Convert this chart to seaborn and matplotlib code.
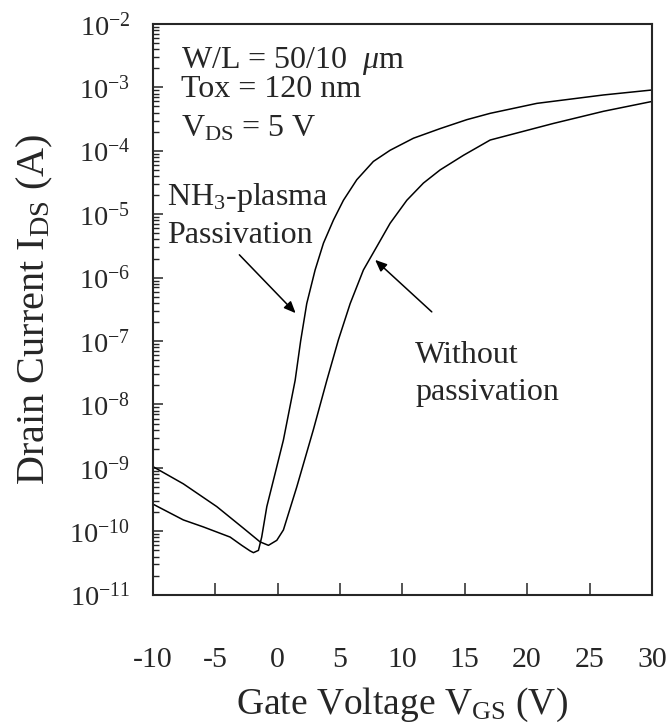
import numpy as np
import pandas as pd
import seaborn as sns
import matplotlib.pyplot as plt
from matplotlib.ticker import LogLocator, FuncFormatter, NullFormatter

# Transfer curves (V_GS in V, I_DS in A)
vgs_nh3 = [-10, -7.55, -5.94, -3.8, -2.87, -2.2, -1.93, -1.53, -1.27, -0.86,
           -0.2, 0.47, 1.41, 1.85, 2.34, 3.01, 3.68, 4.48, 5.28, 6.35,
           7.68, 9.02, 10.89, 13.03, 15.17, 17.04, 20.78, 26.12, 30]
ids_nh3 = [2.69e-10, 1.51e-10, 1.17e-10, 8.1e-11, 6.0e-11, 4.9e-11, 4.6e-11, 5.0e-11, 8.1e-11, 2.45e-10,
           8.1e-10, 2.75e-9, 2.4e-8, 1.0e-7, 3.9e-7, 1.32e-6, 3.5e-6, 8.1e-6, 1.66e-5, 3.5e-5,
           6.8e-5, 1.02e-4, 1.58e-4, 2.24e-4, 3.1e-4, 3.9e-4, 5.6e-4, 7.6e-4, 9.1e-4]

vgs_wo = [-10, -7.55, -4.87, -2.74, -1.4, -0.73, -0.06, 0.47, 1.54, 2.47,
          2.87, 3.95, 4.88, 5.82, 6.88, 7.96, 9.02, 10.36, 11.69, 13.03,
          14.9, 17.04, 22.1, 26.12, 30]
ids_wo = [1.05e-9, 5.6e-10, 2.45e-10, 1.12e-10, 6.8e-11, 6.0e-11, 7.2e-11, 1.05e-10, 5.0e-10, 2.14e-9,
          4.0e-9, 2.4e-8, 1.05e-7, 3.9e-7, 1.32e-6, 3.1e-6, 7.2e-6, 1.66e-5, 3.1e-5, 5.0e-5,
          8.5e-5, 1.48e-4, 2.7e-4, 4.2e-4, 6.0e-4]

df_nh3 = pd.DataFrame({"vgs": vgs_nh3, "ids": ids_nh3})
df_wo = pd.DataFrame({"vgs": vgs_wo, "ids": ids_wo})

sns.set_style("ticks")
plt.rcParams["font.family"] = ["Liberation Serif", "DejaVu Serif"]
plt.rcParams["mathtext.fontset"] = "custom"
plt.rcParams["mathtext.rm"] = "Liberation Serif"
plt.rcParams["mathtext.it"] = "Liberation Serif:italic"
plt.rcParams["axes.unicode_minus"] = False

fig = plt.figure(figsize=(6.7, 7.27), dpi=100)
ax = fig.add_axes([0.228, 0.182, 0.745, 0.785])

sns.lineplot(data=df_nh3, x="vgs", y="ids", color="black", lw=1.1, ax=ax)
sns.lineplot(data=df_wo, x="vgs", y="ids", color="black", lw=1.1, ax=ax)

ax.set_yscale("log")
ax.set_xlim(-10, 30)
ax.set_ylim(1e-11, 1e-2)
ax.set_xticks(range(-10, 31, 5))
ax.yaxis.set_major_locator(LogLocator(base=10, numticks=20))
ax.yaxis.set_minor_locator(LogLocator(base=10, subs=np.arange(2, 10), numticks=20))
ax.yaxis.set_minor_formatter(NullFormatter())
ax.yaxis.set_major_formatter(FuncFormatter(lambda v, _: r"$\mathregular{10^{%d}}$" % round(np.log10(v))))

for s in ax.spines.values():
    s.set_linewidth(1.5)
ax.tick_params(axis="y", which="major", direction="in", length=7, width=1.1, labelsize=20.5, pad=16)
ax.tick_params(axis="y", which="minor", direction="in", length=4.5, width=1.0)
ax.tick_params(axis="x", which="major", direction="in", length=8.5, width=1.1, labelsize=21.5, pad=38)

ax.set_xlabel(r"Gate Voltage V$_{\mathrm{GS}}$ (V)", fontsize=27)
ax.set_ylabel(r"Drain Current I$_{\mathrm{DS}}$ (A)", fontsize=29)
ax.xaxis.set_label_coords(0.5, -0.16)
ax.yaxis.set_label_coords(-0.195, 0.5)

txt = dict(fontsize=23, ha="left", va="baseline")
ax.text(-7.73, 10**-2.694, r"W/L = 50/10  $\mu$m", **txt)
ax.text(-7.73, 10**-3.151, "Tox = 120 nm", **txt)
ax.text(-7.73, 10**-3.767, r"V$_{\mathrm{DS}}$ = 5 V", **txt)
ax.text(-8.85, 10**-4.855, r"NH$_3$-plasma", **txt)
ax.text(-8.85, 10**-5.454, "Passivation", **txt)
ax.text(11.02, 10**-7.342, "Without", **txt)
ax.text(11.02, 10**-7.93, "passivation", **txt)

arrow = dict(arrowstyle="-|>,head_length=0.7,head_width=0.3", color="black", lw=1.1,
             shrinkA=0, shrinkB=0)
ax.annotate("", xy=(1.45, 10**-6.56), xytext=(-3.06, 10**-5.64), arrowprops=arrow)
ax.annotate("", xy=(7.82, 10**-5.72), xytext=(12.36, 10**-6.54), arrowprops=arrow)

fig.savefig("out.png", dpi=100)
